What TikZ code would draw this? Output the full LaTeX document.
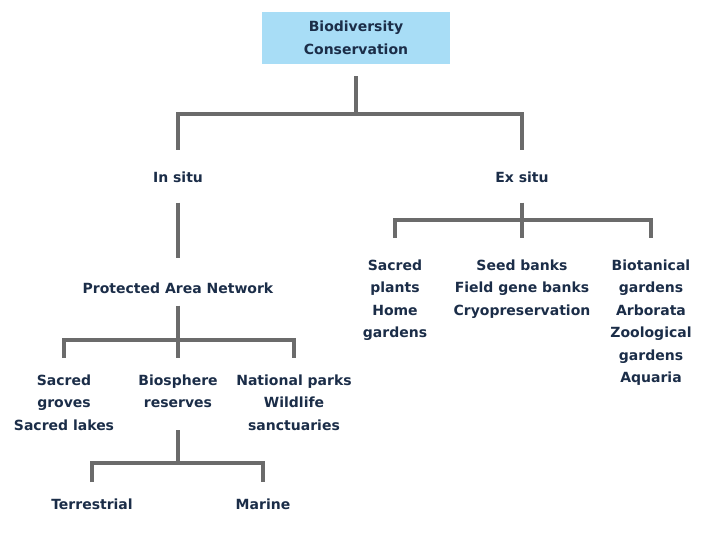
\documentclass[tikz,border=0pt]{standalone}
\usepackage{fontspec}
\setmainfont{DejaVu Sans}
\usepackage{xcolor}
\definecolor{bcsky}{HTML}{A8DDF6}
\definecolor{bcink}{HTML}{1B2D48}
\definecolor{bcgray}{HTML}{6B6B6B}

\begin{document}
\begin{tikzpicture}[x=1pt, y=-1pt, font=\fontsize{14}{22.5}\selectfont\bfseries,
    every node/.style={text=bcink, align=center, inner sep=0pt},
    item/.style={anchor=north},
    link/.style={draw=bcgray, line width=3.5pt}]
        \useasboundingbox (0,0) rectangle (720,540);
        \node[fill=bcsky, minimum width=188pt, minimum height=52pt] (root) at (356,38) {Biodiversity\\Conservation};
        \node[item] (insitu) at (178,171.5) {In situ};
        \node[item] (exsitu) at (522,171.5) {Ex situ};
        \node[item] (protected) at (178,282.5) {Protected Area Network};
        \node[item] (groves) at (64,374.5) {Sacred\\groves\\Sacred lakes};
        \node[item] (biosphere) at (178,374.5) {Biosphere\\reserves};
        \node[item] (parks) at (294,374.5) {National parks\\Wildlife\\sanctuaries};
        \node[item] (terrestrial) at (92,498.5) {Terrestrial};
        \node[item] (marine) at (263,498.5) {Marine};
        \node[item] (plants) at (395,259.5) {Sacred\\plants\\Home\\gardens};
        \node[item] (seeds) at (522,259.5) {Seed banks\\Field gene banks\\Cryopreservation};
        \node[item] (gardens) at (651,259.5) {Biotanical\\gardens\\Arborata\\Zoological\\gardens\\Aquaria};
        \coordinate (rootbar) at (356,114);
        \coordinate (protbar) at (178,340);
        \coordinate (biobar) at (178,463);
        \coordinate (exbar) at (522,220);
        \draw[link] ([yshift=-12pt]root.south) -- (rootbar);
        \draw[link] ([yshift=21.5pt]insitu.north) |- (rootbar) -| ([yshift=21.5pt]exsitu.north);
        \draw[link] ([yshift=-20pt]insitu.south) -- ([yshift=24.5pt]protected.north);
        \draw[link] ([yshift=-12pt]protected.south) -- ([yshift=16.5pt]biosphere.north);
        \draw[link] ([yshift=16.5pt]groves.north) |- (protbar) -| ([yshift=16.5pt]parks.north);
        \draw[link] ([yshift=-22pt]biosphere.south) -- (biobar);
        \draw[link] ([yshift=16.5pt]terrestrial.north) |- (biobar) -| ([yshift=16.5pt]marine.north);
        \draw[link] ([yshift=-20pt]exsitu.south) -- ([yshift=21.5pt]seeds.north);
        \draw[link] ([yshift=21.5pt]plants.north) |- (exbar) -| ([yshift=21.5pt]gardens.north);
      \end{tikzpicture}
\end{document}
